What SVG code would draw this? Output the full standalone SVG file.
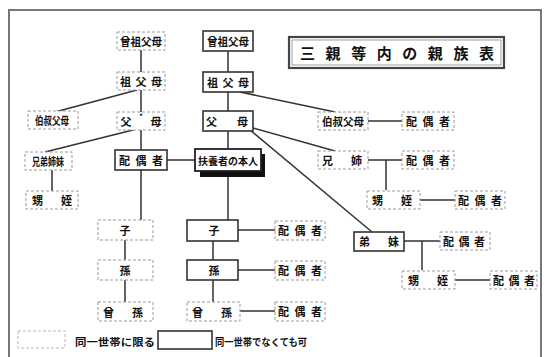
<svg xmlns="http://www.w3.org/2000/svg" width="545" height="357" viewBox="0 0 545 357">
<style>
.bg{fill:#fff}
.frame{fill:none;stroke:#777;stroke-width:2}
.solid{fill:#fff;stroke:#333;stroke-width:1.6}
.dash{fill:#fff;stroke:#999;stroke-width:1;stroke-dasharray:3 2}
.ln{stroke:#333;stroke-width:1.5;fill:none}
.t{font-family:"Noto Sans CJK JP","Noto Sans CJK SC",sans-serif;font-weight:bold;font-size:11px;fill:#111;text-anchor:middle;dominant-baseline:central}
.tt{font-family:"Noto Sans CJK JP","Noto Sans CJK SC",sans-serif;font-weight:bold;font-size:15px;fill:#111;dominant-baseline:central}
.lg{font-family:"Noto Sans CJK JP","Noto Sans CJK SC",sans-serif;font-weight:bold;font-size:10px;fill:#111;dominant-baseline:central}
</style>
<rect class="bg" width="545" height="357"/>
<path class="frame" d="M9,360 V10 H541 V360"/>

<g id="connectors">
<path class="ln" d="M141,50 V72 M141,90 V112 M137,90 L55,112 M141,130 V150 M133,130 L45,152 M52,170 V191"/>
<path class="ln" d="M141,170 V220 M125,221 V302"/>
<path class="ln" d="M167,160 H195 M228,50 V73 M228,91 V112 M228,130 V150 M228,176 V220 M213,221 V302"/>
<path class="ln" d="M238,230 H275 M238,270 H275 M240,311 H275"/>
<path class="ln" d="M240,92 L335,112 M368,121 H402 M253,128 L335,151 M250,130 L372,232"/>
<path class="ln" d="M368,160 H402 M386,160 V190 M420,200 H455 M404,241 H440 M422,241 V270 M455,280 H490"/>
</g>

<g id="title"><rect x="289" y="37" width="215" height="31" fill="#fff" stroke="#444" stroke-width="2.2"/><rect x="292" y="40" width="209" height="25" fill="none" stroke="#888" stroke-width="0.8"/><text class="tt" x="300" y="52" textLength="194" lengthAdjust="spacing">三親等内の親族表</text></g>

<g id="sosofubo-l"><rect class="dash" x="117" y="32" width="48" height="18"/><text class="t" x="141" y="41" textLength="42" lengthAdjust="spacingAndGlyphs">曾祖父母</text></g>
<g id="sofubo-l"><rect class="dash" x="117" y="72" width="48" height="18"/><text class="t" x="141" y="81" textLength="42" lengthAdjust="spacing">祖父母</text></g>
<g id="hakushuku-l"><rect class="dash" x="28" y="111" width="50" height="18"/><text class="t" x="52" y="120" textLength="34" lengthAdjust="spacingAndGlyphs">伯叔父母</text></g>
<g id="fubo-l"><rect class="dash" x="117" y="112" width="48" height="18"/><text class="t" x="126" y="121">父</text><text class="t" x="156" y="121">母</text><text class="t" x="141" y="116" style="font-size:7px">*</text></g>
<g id="kyodai-l"><rect class="dash" x="25" y="152" width="47" height="18"/><text class="t" x="48" y="161" textLength="32" lengthAdjust="spacingAndGlyphs">兄弟姉妹</text></g>
<g id="oimei-l"><rect class="dash" x="26" y="191" width="52" height="18"/><text class="t" x="52" y="200" textLength="40" lengthAdjust="spacing">甥姪</text></g>
<g id="haigusha-c"><rect class="solid" x="115" y="150" width="52" height="20"/><text class="t" x="141" y="160" textLength="44" lengthAdjust="spacing">配偶者</text></g>
<g id="ko-l"><rect class="dash" x="98" y="220" width="55" height="20"/><text class="t" x="125" y="230">子</text></g>
<g id="mago-l"><rect class="dash" x="98" y="260" width="55" height="20"/><text class="t" x="125" y="270">孫</text></g>
<g id="himago-l"><rect class="dash" x="98" y="302" width="55" height="19"/><text class="t" x="123" y="312" textLength="40" lengthAdjust="spacing">曾孫</text></g>

<g id="sosofubo-r"><rect class="solid" x="203" y="31" width="50" height="20"/><text class="t" x="228" y="41" textLength="42" lengthAdjust="spacingAndGlyphs">曾祖父母</text></g>
<g id="sofubo-r"><rect class="solid" x="203" y="72" width="50" height="20"/><text class="t" x="228" y="82" textLength="42" lengthAdjust="spacing">祖父母</text></g>
<g id="fubo-r"><rect class="solid" x="203" y="111" width="50" height="20"/><text class="t" x="227" y="121" textLength="42" lengthAdjust="spacing">父母</text></g>
<g id="honnin"><rect x="200" y="154" width="65" height="23" fill="#111"/><rect x="195" y="149" width="66" height="22" fill="#fff" stroke="#222" stroke-width="1.8"/><text class="t" x="228" y="160" style="font-size:10px" textLength="60" lengthAdjust="spacingAndGlyphs">扶養者の本人</text></g>
<g id="ko-r"><rect class="solid" x="187" y="220" width="51" height="21"/><text class="t" x="214" y="230">子</text></g>
<g id="mago-r"><rect class="solid" x="187" y="260" width="51" height="20"/><text class="t" x="214" y="270">孫</text></g>
<g id="himago-r"><rect class="dash" x="187" y="302" width="53" height="19"/><text class="t" x="212" y="312" textLength="40" lengthAdjust="spacing">曾孫</text></g>
<g id="haigusha-ko"><rect class="dash" x="275" y="221" width="50" height="19"/><text class="t" x="300" y="230" textLength="44" lengthAdjust="spacing">配偶者</text></g>
<g id="haigusha-mago"><rect class="dash" x="275" y="261" width="50" height="19"/><text class="t" x="300" y="270" textLength="44" lengthAdjust="spacing">配偶者</text></g>
<g id="haigusha-himago"><rect class="dash" x="275" y="302" width="50" height="19"/><text class="t" x="300" y="311" textLength="44" lengthAdjust="spacing">配偶者</text></g>

<g id="hakushuku-r"><rect class="dash" x="318" y="112" width="50" height="18"/><text class="t" x="343" y="121" textLength="42" lengthAdjust="spacingAndGlyphs">伯叔父母</text></g>
<g id="haigusha-haku"><rect class="dash" x="402" y="112" width="52" height="18"/><text class="t" x="428" y="121" textLength="44" lengthAdjust="spacing">配偶者</text></g>
<g id="kyoshi"><rect class="dash" x="318" y="151" width="50" height="18"/><text class="t" x="342" y="160" textLength="40" lengthAdjust="spacing">兄姉</text></g>
<g id="haigusha-kyoshi"><rect class="dash" x="402" y="151" width="52" height="18"/><text class="t" x="428" y="160" textLength="44" lengthAdjust="spacing">配偶者</text></g>
<g id="oimei-1"><rect class="dash" x="367" y="191" width="53" height="18"/><text class="t" x="392" y="200" textLength="40" lengthAdjust="spacing">甥姪</text></g>
<g id="haigusha-oimei-1"><rect class="dash" x="455" y="191" width="50" height="18"/><text class="t" x="480" y="200" textLength="44" lengthAdjust="spacing">配偶者</text></g>
<g id="teimai"><rect class="solid" x="354" y="232" width="50" height="19"/><text class="t" x="379" y="241" textLength="40" lengthAdjust="spacing">弟妹</text></g>
<g id="haigusha-teimai"><rect class="dash" x="440" y="232" width="50" height="18"/><text class="t" x="464" y="241" textLength="42" lengthAdjust="spacing">配偶者</text></g>
<g id="oimei-2"><rect class="dash" x="402" y="271" width="53" height="18"/><text class="t" x="428" y="280" textLength="40" lengthAdjust="spacing">甥姪</text></g>
<g id="haigusha-oimei-2"><rect class="dash" x="490" y="271" width="47" height="18"/><text class="t" x="514" y="280" textLength="42" lengthAdjust="spacing">配偶者</text></g>

<g id="legend">
<rect class="dash" x="18" y="331" width="47" height="17" style="stroke:#bbb"/>
<text class="lg" x="75" y="341" textLength="80" lengthAdjust="spacingAndGlyphs">同一世帯に限る</text>
<rect class="solid" x="158" y="331" width="54" height="18"/>
<text class="lg" x="215" y="341" textLength="92" lengthAdjust="spacingAndGlyphs">同一世帯でなくても可</text>
</g>
</svg>
